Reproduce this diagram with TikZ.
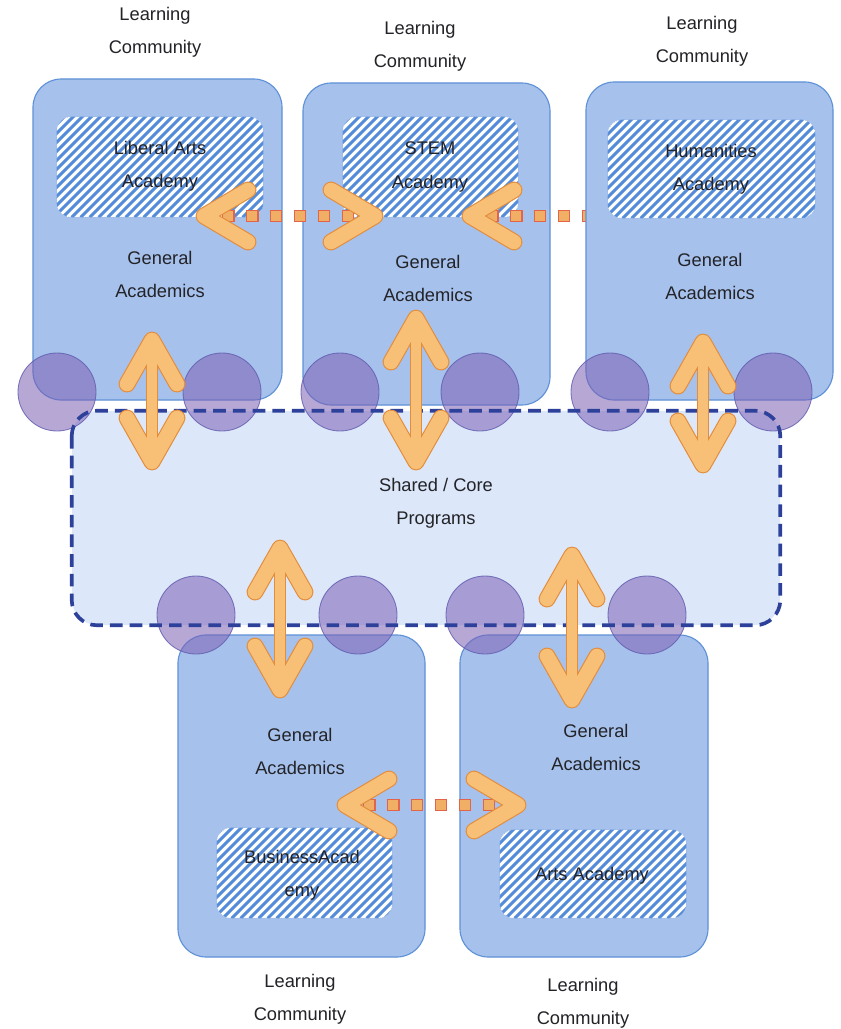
\documentclass[tikz,border=0pt]{standalone}
\usepackage{fontspec}
\setmainfont{Liberation Sans}
\usetikzlibrary{fit,calc}
\definecolor{boxfill}{RGB}{166,194,236}
\definecolor{boxline}{RGB}{95,145,215}
\definecolor{corefill}{RGB}{220,232,249}
\definecolor{coreline}{RGB}{45,65,155}
\definecolor{circfill}{RGB}{125,95,180}
\definecolor{circline}{RGB}{95,90,175}
\definecolor{hatchline}{RGB}{85,140,218}
\definecolor{arrO}{RGB}{226,140,60}
\definecolor{arrI}{RGB}{248,192,118}
\definecolor{dotc}{RGB}{225,100,75}
\definecolor{doti}{RGB}{240,175,100}
\definecolor{txt}{RGB}{35,35,40}
\newcommand\vdbl[2]{%
  \foreach \lw/\sw/\cc in {12pt/8.5pt/arrO, 10.4pt/7pt/arrI}{
    \draw[line width=\sw, draw=\cc] ($(#1)+(0,8)$) -- ($(#2)+(0,-8)$);
    \draw[line width=\lw, draw=\cc, line cap=round, line join=round]
      ($(#1)+(-25,44)$) -- (#1) -- ($(#1)+(25,44)$);
    \draw[line width=\lw, draw=\cc, line cap=round, line join=round]
      ($(#2)+(-25,-44)$) -- (#2) -- ($(#2)+(25,-44)$);
  }}
\newcommand\lchev[1]{%
  \foreach \lw/\cc in {12pt/arrO, 10.4pt/arrI}{
    \draw[line width=\lw, draw=\cc, line cap=round, line join=round]
      ($(#1)+(44,-26)$) -- (#1) -- ($(#1)+(44,26)$);
  }}
\newcommand\rchev[1]{%
  \foreach \lw/\cc in {12pt/arrO, 10.4pt/arrI}{
    \draw[line width=\lw, draw=\cc, line cap=round, line join=round]
      ($(#1)+(-44,-26)$) -- (#1) -- ($(#1)+(-44,26)$);
  }}
\newcommand\hatch[1]{%
  \begin{scope}
    \clip[rounded corners=10pt] (#1.south west) rectangle (#1.north east);
    \fill[white] (#1.south west) rectangle (#1.north east);
    \foreach \d in {-120,-111,...,230}
      \draw[hatchline, line width=2.1pt] ($(#1.south west)+(\d,0)$) -- ++(130,-130);
  \end{scope}
  \draw[hatchline!60, densely dotted, line width=0.5pt, rounded corners=10pt]
    (#1.south west) rectangle (#1.north east);}
\newcommand\dotted[2]{%
  \draw[draw=dotc, line width=9pt, dash pattern=on 9pt off 8pt] (#1) -- (#2);
  \draw[draw=doti, line width=7pt, dash pattern=on 7pt off 10pt, dash phase=-1pt] (#1) -- (#2);}
\begin{document}
\begin{tikzpicture}[x=0.025cm,y=-0.025cm,
  lcbox/.style={draw=boxline, line width=0.8pt, fill=boxfill, rounded corners=20pt, inner sep=0pt},
  acad/.style={inner sep=0pt},
  circ/.style={circle, fill=circfill, fill opacity=0.55, draw=circline, draw opacity=0.8,
    line width=0.6pt, minimum size=1.95cm, inner sep=0pt},
  lbl/.style={text=txt, align=center, font=\fontsize{13}{23.5}\selectfont}]
\useasboundingbox (0,0) rectangle (840,1029);
\fill[white] (0,0) rectangle (840,1029);

% learning community boxes
\node[lcbox, fit={(33,79) (282,400)}] (lc1) {};
\node[lcbox, fit={(303,83) (550,405)}] (lc2) {};
\node[lcbox, fit={(178,635) (425,957)}] (lc4) {};
\node[lcbox, fit={(460,635) (708,957)}] (lc5) {};

% academies
\node[acad, fit={(57,117) (263,217)}] (ac1) {};
\node[acad, fit={(343,117) (518,217)}] (ac2) {};
\node[acad, fit={(217,828) (392,918)}] (ac4) {};
\node[acad, fit={(500,830) (686,918)}] (ac5) {};
\hatch{ac1}\hatch{ac2}\hatch{ac4}\hatch{ac5}

% dotted connector STEM -> Humanities (runs under Humanities box)
\coordinate (h2a) at (470,216);
\coordinate (h2b) at (592,216);
\dotted{$(h2a)+(16,0)$}{h2b}
\lchev{h2a}

\node[lcbox, fit={(586,82) (833,400)}] (lc3) {};
\node[acad, fit={(608,120) (815,218)}] (ac3) {};
\hatch{ac3}

% core
\node[fill=corefill, rounded corners=18pt, inner sep=0pt, fit={(72,411) (780,625)}] (core) {};

% circles
\foreach \x [count=\i] in {57,222,340,480,610,773}
  \node[circ] (ct\i) at (\x,392) {};
\foreach \x [count=\i] in {196,358,485,647}
  \node[circ] (cb\i) at (\x,615) {};

\draw[coreline, line width=2.6pt, dash pattern=on 9pt off 5pt, rounded corners=18pt]
  (core.north west) rectangle (core.south east);

% horizontal dotted double arrows
\coordinate (h1a) at (204,216);
\coordinate (h1b) at (375,216);
\dotted{$(h1a)+(18,0)$}{$(h1b)+(-18,0)$}
\lchev{h1a}\rchev{h1b}
\coordinate (h3a) at (345,805);
\coordinate (h3b) at (518,805);
\dotted{$(h3a)+(18,0)$}{$(h3b)+(-18,0)$}
\lchev{h3a}\rchev{h3b}

% vertical double arrows
\coordinate (v1a) at (152,340); \coordinate (v1b) at (152,462);
\coordinate (v2a) at (416,318); \coordinate (v2b) at (416,462);
\coordinate (v3a) at (703,342); \coordinate (v3b) at (703,465);
\coordinate (v4a) at (280,548); \coordinate (v4b) at (280,690);
\coordinate (v5a) at (572,555); \coordinate (v5b) at (572,700);
\vdbl{v1a}{v1b}
\vdbl{v2a}{v2b}
\vdbl{v3a}{v3b}
\vdbl{v4a}{v4b}
\vdbl{v5a}{v5b}

% texts
\node[lbl] (t1) at (155,32.5) {Learning\\Community};
\node[lbl] (t2) at (420,46) {Learning\\Community};
\node[lbl] (t3) at (702,41) {Learning\\Community};
\node[lbl] (t4) at (300,999) {Learning\\Community};
\node[lbl] (t5) at (583,1003) {Learning\\Community};
\node[lbl] (a1) at (160,166) {Liberal Arts\\Academy};
\node[lbl] (a2) at (430,167) {STEM\\Academy};
\node[lbl] (a3) at (711,169) {Humanities\\Academy};
\node[lbl] (a4) at (302,875.5) {BusinessAcad\\emy};
\node[lbl] (a5) at (592,876) {Arts Academy};
\node[lbl] (g1) at (160,274) {General\\Academics};
\node[lbl] (g2) at (428,278.5) {General\\Academics};
\node[lbl] (g3) at (710,276.5) {General\\Academics};
\node[lbl] (g4) at (300,751.5) {General\\Academics};
\node[lbl] (g5) at (596,747.5) {General\\Academics};
\node[lbl] (c0) at (436,503) {Shared / Core\\Programs};
\end{tikzpicture}
\end{document}
